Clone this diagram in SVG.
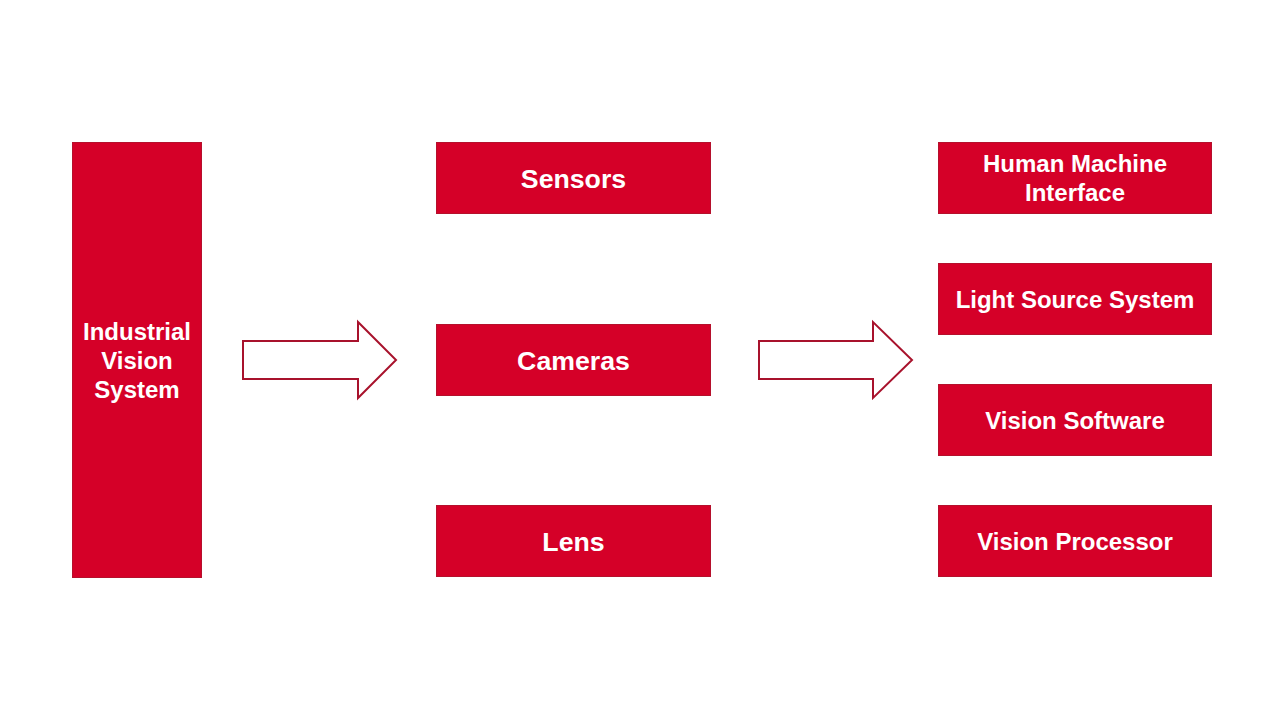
<svg xmlns="http://www.w3.org/2000/svg" width="1280" height="720" viewBox="0 0 1280 720">
<style>
.box{fill:#D50028;stroke:#B5102C;stroke-width:1}
.lbl{font-family:"Liberation Sans",Arial,sans-serif;font-weight:bold;font-size:24px;fill:#FFFFFF;text-anchor:middle}
.big{font-size:26.7px}
.arr{fill:#FFFFFF;stroke:#A8122C;stroke-width:2;stroke-linejoin:miter}
</style>
<rect width="1280" height="720" fill="#FFFFFF"/>
<g id="industrial-vision-system">
<rect class="box" x="72.5" y="142.5" width="129" height="435"/>
<text class="lbl" x="137" y="339.5">Industrial</text>
<text class="lbl" x="137" y="368.5">Vision</text>
<text class="lbl" x="137" y="397.5">System</text>
</g>
<g id="sensors">
<rect class="box" x="436.5" y="142.5" width="274" height="71"/>
<text class="lbl big" x="573.5" y="187.5">Sensors</text>
</g>
<g id="cameras">
<rect class="box" x="436.5" y="324.5" width="274" height="71"/>
<text class="lbl big" x="573.5" y="369.5">Cameras</text>
</g>
<g id="lens">
<rect class="box" x="436.5" y="505.5" width="274" height="71"/>
<text class="lbl big" x="573.5" y="550.5">Lens</text>
</g>
<g id="hmi">
<rect class="box" x="938.5" y="142.5" width="273" height="71"/>
<text class="lbl" x="1075" y="172">Human Machine</text>
<text class="lbl" x="1075" y="201">Interface</text>
</g>
<g id="light-source-system">
<rect class="box" x="938.5" y="263.5" width="273" height="71"/>
<text class="lbl" x="1075" y="307.5">Light Source System</text>
</g>
<g id="vision-software">
<rect class="box" x="938.5" y="384.5" width="273" height="71"/>
<text class="lbl" x="1075" y="428.5">Vision Software</text>
</g>
<g id="vision-processor">
<rect class="box" x="938.5" y="505.5" width="273" height="71"/>
<text class="lbl" x="1075" y="549.5">Vision Processor</text>
</g>
<g id="connectors">
<polygon class="arr" points="243,341 358,341 358,322 396,360 358,398 358,379 243,379"/>
<polygon class="arr" points="759,341 873,341 873,322 912,360 873,398 873,379 759,379"/>
</g>
</svg>
